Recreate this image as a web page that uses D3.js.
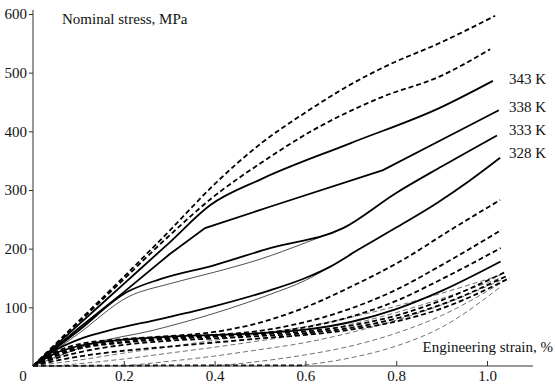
<!DOCTYPE html>
<html><head><meta charset="utf-8">
<script src="https://cdn.jsdelivr.net/npm/d3@7"></script>
<style>body{margin:0;background:#fff}svg{display:block}</style>
</head><body>
<script>
// ---- data (strain %, nominal stress MPa) ----
const xTicks = [0.2, 0.4, 0.6, 0.8, 1.0];
const yTicks = [100, 200, 300, 400, 500, 600];
const tempLabels = ["343 K", "338 K", "333 K", "328 K"];
const tempLabelStress = [490, 442, 402, 363];

// thick dashed, upper pair
const dashTop1 = [[0,0],[0.1,76],[0.2,152],[0.3,230],[0.4,310],[0.5,378],[0.6,432],[0.7,480],[0.78,512],[0.9,552],[1.018,597]];
const dashTop2 = [[0,0],[0.1,74],[0.2,148],[0.3,222],[0.4,290],[0.5,345],[0.617,402],[0.764,457],[0.9,495],[1.007,540]];
// thick solid curves
const solid343 = [[0,0],[0.1,70],[0.2,140],[0.3,210],[0.39,274],[0.504,319],[0.7,380],[0.896,440],[1.013,486]];
const solid338 = [[0,0],[0.1,64],[0.2,126],[0.3,190],[0.379,235],[0.52,271],[0.771,334],[0.896,384],[1.026,436]];
const solid333 = [[0,0],[0.1,60],[0.207,126],[0.28,148],[0.4,172],[0.522,201],[0.683,235],[0.8,295],[0.9,340],[1.022,393]];
const solid328 = [[0,0],[0.03,18],[0.11,48],[0.17,61],[0.28,80],[0.4,102],[0.522,129],[0.6,150],[0.654,169],[0.716,198],[0.8,236],[0.89,278],[0.96,315],[1.029,355]];
const solidLow = [[0,0],[0.05,22],[0.1,34],[0.2,45],[0.3,50],[0.4,53],[0.5,56],[0.6,62],[0.7,75],[0.8,97],[0.9,128],[1.03,178]];
// thin solid companions
const thin333 = [[0,0],[0.1,55],[0.21,118],[0.3,140],[0.4,160],[0.5,182],[0.6,210],[0.683,235]];
const thin328 = [[0,0],[0.05,15],[0.13,38],[0.26,60],[0.4,90],[0.522,122],[0.6,146],[0.654,169]];
// thick dashed, lower group
const dashLow1 = [[0,0],[0.05,24],[0.1,37],[0.2,46],[0.3,51],[0.4,58],[0.5,74],[0.6,100],[0.7,135],[0.815,181],[0.92,232],[1.029,283]];
const dashLow2 = [[0,0],[0.05,21],[0.1,34],[0.2,44],[0.3,49],[0.4,53],[0.5,60],[0.6,75],[0.7,98],[0.8,130],[0.9,172],[1.032,232]];
const dashLow3 = [[0,0],[0.05,19],[0.1,31],[0.2,41],[0.3,47],[0.4,51],[0.5,56],[0.6,66],[0.7,84],[0.8,111],[0.9,148],[1.03,201]];
const dashLow4 = [[0,0],[0.05,17],[0.1,29],[0.2,40],[0.3,46],[0.4,50],[0.5,54],[0.6,59],[0.7,69],[0.8,86],[0.9,112],[1.04,160]];
const dashLow5 = [[0,0],[0.05,13],[0.1,23],[0.2,36],[0.3,43],[0.4,47],[0.5,51],[0.6,56],[0.7,65],[0.8,81],[0.9,105],[1.045,154]];
const dashLow6 = [[0,0],[0.05,9],[0.1,16],[0.2,26],[0.3,33],[0.4,40],[0.5,47],[0.6,53],[0.7,62],[0.8,76],[0.9,98],[1.05,150]];
const dashBase = [[0,0],[0.3,1],[0.6,1]];
// thin dashed fan
const thinDash1 = [[0,0],[0.1,10],[0.2,22],[0.3,33],[0.4,44],[0.5,55],[0.6,67],[0.7,83],[0.8,102],[0.9,124],[1.03,155]];
const thinDash2 = [[0.05,0],[0.2,12],[0.3,22],[0.4,32],[0.5,43],[0.6,55],[0.7,71],[0.8,91],[0.9,115],[1.03,150]];
const thinDash3 = [[0.2,0],[0.3,8],[0.4,17],[0.5,28],[0.6,40],[0.7,57],[0.8,78],[0.9,104],[1.03,146]];
const thinDash4 = [[0.4,0],[0.5,8],[0.6,19],[0.7,34],[0.8,56],[0.9,86],[1.03,141]];
const thinDash5 = [[0.58,0],[0.7,14],[0.8,34],[0.9,66],[1.03,135]];

// ---- drawing ----
const FONT = "'Liberation Serif', serif";
const FS = 15;
const W = 555, H = 385;
const svg = d3.select("body").append("svg").attr("width", W).attr("height", H);
const x = d3.scaleLinear().domain([0, 1]).range([33, 487]);
const y = d3.scaleLinear().domain([0, 600]).range([366, 14]);

const smooth = d3.line().x(d => x(d[0])).y(d => y(d[1])).curve(d3.curveMonotoneX);
const straight = d3.line().x(d => x(d[0])).y(d => y(d[1]));

const series = [
  {d: thinDash1, w: 0.7, dash: "5,3", c: "#333", f: smooth},
  {d: thinDash2, w: 0.7, dash: "5,3", c: "#333", f: smooth},
  {d: thinDash3, w: 0.7, dash: "5,3", c: "#333", f: smooth},
  {d: thinDash4, w: 0.7, dash: "5,3", c: "#333", f: smooth},
  {d: thinDash5, w: 0.7, dash: "5,3", c: "#333", f: smooth},
  {d: thin333, w: 0.8, dash: null, c: "#222", f: smooth},
  {d: thin328, w: 0.8, dash: null, c: "#222", f: smooth},
  {d: dashBase, w: 1.8, dash: "5,3", c: "#000", f: straight},
  {d: dashLow6, w: 1.8, dash: "5,3", c: "#000", f: smooth},
  {d: dashLow5, w: 1.8, dash: "5,3", c: "#000", f: smooth},
  {d: dashLow4, w: 1.8, dash: "5,3", c: "#000", f: smooth},
  {d: dashLow3, w: 1.8, dash: "5,3", c: "#000", f: smooth},
  {d: dashLow2, w: 1.8, dash: "5,3", c: "#000", f: smooth},
  {d: dashLow1, w: 1.8, dash: "5,3", c: "#000", f: smooth},
  {d: solidLow, w: 1.8, dash: null, c: "#000", f: smooth},
  {d: solid328, w: 1.8, dash: null, c: "#000", f: smooth},
  {d: solid333, w: 1.8, dash: null, c: "#000", f: smooth},
  {d: solid338, w: 1.8, dash: null, c: "#000", f: straight},
  {d: solid343, w: 1.8, dash: null, c: "#000", f: smooth},
  {d: dashTop2, w: 1.8, dash: "5,3", c: "#000", f: smooth},
  {d: dashTop1, w: 1.8, dash: "5,3", c: "#000", f: smooth}
];
svg.append("g").selectAll("path").data(series).join("path")
  .attr("d", s => s.f(s.d)).attr("fill", "none")
  .attr("stroke", s => s.c).attr("stroke-width", s => s.w)
  .attr("stroke-dasharray", s => s.dash);

// axes
const yAxis = d3.axisLeft(y).tickValues(yTicks).tickSize(4).tickPadding(2).tickFormat(d3.format("d"));
const gy = svg.append("g").attr("transform", "translate(33,0)").call(yAxis);
gy.select(".domain").attr("d", `M0,${y(0)}V${y(600) - 4}`).attr("stroke", "#333");
gy.selectAll(".tick line").attr("stroke", "#333");

const xAxis = d3.axisBottom(x).tickValues(xTicks).tickSize(-5).tickPadding(4).tickFormat(d3.format(".1f"));
const gx = svg.append("g").attr("transform", `translate(0,${y(0)})`).call(xAxis);
gx.select(".domain").attr("d", `M${x(0)},0H533`).attr("stroke", "#333");
gx.selectAll(".tick line").attr("stroke", "#333");

svg.append("text").attr("x", 23).attr("y", 381).attr("text-anchor", "middle").text("0");
svg.append("text").attr("x", 62).attr("y", 24).text("Nominal stress, MPa");
svg.append("text").attr("x", 553).attr("y", 352).attr("text-anchor", "end").text("Engineering strain, %");

svg.append("g").selectAll("text").data(tempLabels).join("text")
  .attr("x", 509).attr("y", (d, i) => y(tempLabelStress[i]) + 5)
  .text(d => d);

// apply font to every text element directly
svg.selectAll("text").style("font-family", FONT).style("font-size", FS + "px").attr("fill", "#111");
</script>
</body></html>
